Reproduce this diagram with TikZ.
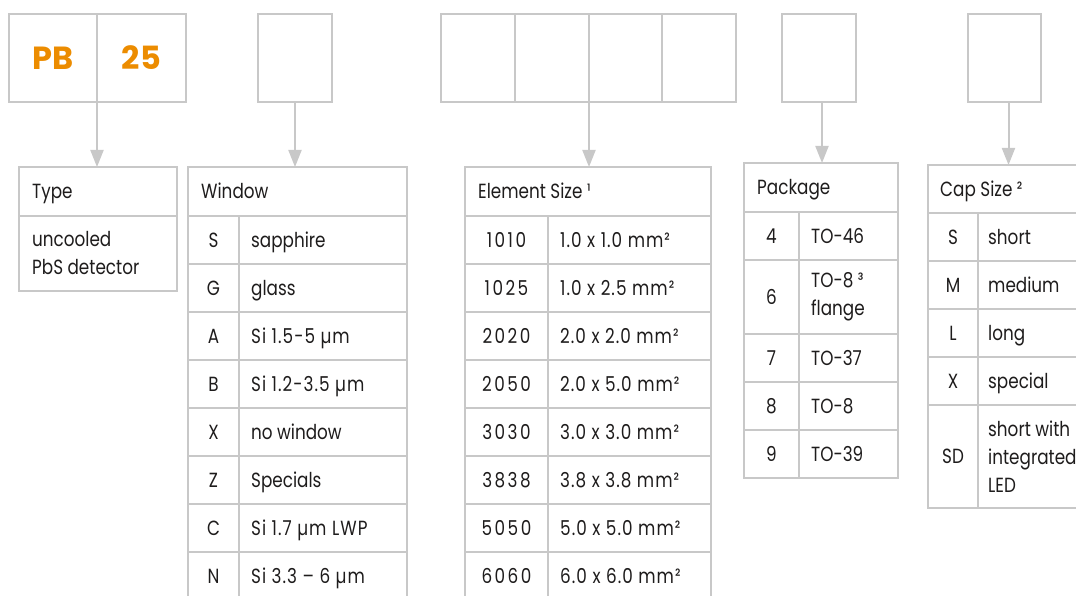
\documentclass[tikz,border=0pt]{standalone}
\usepackage{fontspec}
\usetikzlibrary{arrows.meta}
\setmainfont{Poppins}[FakeStretch=0.82]
\newfontfamily\numfont{Poppins}[FakeStretch=0.82, LetterSpace=5]
\newfontfamily\codefont{Poppins}[FakeStretch=0.82, LetterSpace=12]
\newfontfamily\pbfont{Poppins}
\definecolor{lgray}{RGB}{200,200,200}
\definecolor{orng}{RGB}{236,140,0}
\definecolor{ink}{RGB}{30,28,28}
\newcommand\dx{12pt}
\newcommand\cellbox[6][]{%
  \pgfmathsetmacro\cw{#5-#3}\pgfmathsetmacro\ch{#6-#4}%
  \node[cellb, minimum width=\cw pt, minimum height=\ch pt, #1] (#2) at (#3,#4) {};}
% #1 name, #2 x1, #3 xm, #4 x2, #5 y1, #6 y2, #7 code, #8 desc
\newcommand\trow[8]{%
  \cellbox{#1c}{#2}{#5}{#3}{#6}%
  \cellbox{#1d}{#3}{#5}{#4}{#6}%
  \node[one] (#1ct) at (#1c.center) {#7};%
  \node[one, anchor=west] (#1dt) at ([xshift=\dx]#1d.west) {#8};}
\newcommand\trowm[8]{%
  \cellbox{#1c}{#2}{#5}{#3}{#6}%
  \cellbox{#1d}{#3}{#5}{#4}{#6}%
  \node[one] (#1ct) at (#1c.center) {#7};%
  \node[txt, align=left, anchor=west] (#1dt) at ([xshift=\dx]#1d.west) {#8};}
\begin{document}
\begin{tikzpicture}[x=1pt,y=-1pt,
  cellb/.style={draw=lgray, line width=2pt, rectangle, inner sep=0pt, outer sep=0pt, anchor=north west},
  txt/.style={font=\fontsize{20.5}{28}\selectfont, text=ink, inner sep=0pt},
  one/.style={txt, text height=14.3pt, text depth=0pt},
  arr/.style={draw=lgray, line width=2pt, -{Triangle[length=17pt,width=13pt]}},
  big/.style={font=\pbfont\bfseries\fontsize{32}{32}\selectfont, text=orng}]
\useasboundingbox (0,0) rectangle (1076,596);
\clip (0,0) rectangle (1076,596);
% ---------- top code boxes ----------
\cellbox{pb}{9}{14}{97}{102}
\cellbox{n25}{97}{14}{186}{102}
\node[big] (pbt) at (pb.center) {PB};
\node[big] (n25t) at (n25.center) {25};
\cellbox{win}{258}{14}{332}{102}
\cellbox{ea}{441}{14}{515}{102}
\cellbox{eb}{515}{14}{589}{102}
\cellbox{ec}{589}{14}{662}{102}
\cellbox{ed}{662}{14}{736}{102}
\cellbox{pkg}{782}{14}{856}{102}
\cellbox{cap}{968}{14}{1041}{102}
% ---------- Type ----------
\cellbox{typeh}{19}{167}{177}{216}
\cellbox{typeb}{19}{216}{177}{291}
\node[one, anchor=west] (typet) at ([xshift=13pt]typeh.west) {Type};
\node[txt, align=left, anchor=west] (typebt) at ([xshift=13pt]typeb.west) {uncooled\\PbS detector};
% ---------- Window ----------
\cellbox{winh}{188}{167}{407}{216}
\node[one, anchor=west] (wint) at ([xshift=13pt]winh.west) {Window};
\trow{w1}{188}{239}{407}{216}{264}{S}{sapphire}
\trow{w2}{188}{239}{407}{264}{312}{G}{glass}
\trow{w3}{188}{239}{407}{312}{360}{A}{\numfont Si 1.5-5 µm}
\trow{w4}{188}{239}{407}{360}{408}{B}{\numfont Si 1.2-3.5 µm}
\trow{w5}{188}{239}{407}{408}{456}{X}{no window}
\trow{w6}{188}{239}{407}{456}{504}{Z}{Specials}
\trow{w7}{188}{239}{407}{504}{552}{C}{\numfont Si 1.7 µm LWP}
\trow{w8}{188}{239}{407}{552}{600}{N}{\numfont Si 3.3 – 6 µm}
% ---------- Element Size ----------
\cellbox{elh}{465}{167}{711}{216}
\node[one, anchor=west] (elt) at ([xshift=13pt]elh.west) {Element Size ¹};
\trow{e1}{465}{548}{711}{216}{264}{\codefont 1010}{\numfont 1.0 x 1.0 mm²}
\trow{e2}{465}{548}{711}{264}{312}{\codefont 1025}{\numfont 1.0 x 2.5 mm²}
\trow{e3}{465}{548}{711}{312}{360}{\codefont 2020}{\numfont 2.0 x 2.0 mm²}
\trow{e4}{465}{548}{711}{360}{408}{\codefont 2050}{\numfont 2.0 x 5.0 mm²}
\trow{e5}{465}{548}{711}{408}{456}{\codefont 3030}{\numfont 3.0 x 3.0 mm²}
\trow{e6}{465}{548}{711}{456}{504}{\codefont 3838}{\numfont 3.8 x 3.8 mm²}
\trow{e7}{465}{548}{711}{504}{552}{\codefont 5050}{\numfont 5.0 x 5.0 mm²}
\trow{e8}{465}{548}{711}{552}{600}{\codefont 6060}{\numfont 6.0 x 6.0 mm²}
% ---------- Package ----------
\cellbox{pkgh}{744}{163}{898}{212}
\node[one, anchor=west] (pkgt) at ([xshift=13pt]pkgh.west) {Package};
\trow{p1}{744}{799}{898}{212}{260}{4}{TO-46}
\trowm{p2}{744}{799}{898}{260}{334}{6}{TO-8 ³\\flange}
\trow{p3}{744}{799}{898}{334}{382}{7}{TO-37}
\trow{p4}{744}{799}{898}{382}{430}{8}{TO-8}
\trow{p5}{744}{799}{898}{430}{478}{9}{TO-39}
% ---------- Cap Size ----------
\renewcommand\dx{10pt}
\cellbox{caph}{928}{165}{1090}{213}
\node[one, anchor=west] (capt) at ([xshift=12pt]caph.west) {Cap Size ²};
\trow{c1}{928}{978}{1090}{213}{261}{S}{short}
\trow{c2}{928}{978}{1090}{261}{309}{M}{medium}
\trow{c3}{928}{978}{1090}{309}{357}{L}{long}
\trow{c4}{928}{978}{1090}{357}{405}{X}{special}
\trowm{c5}{928}{978}{1090}{405}{508}{SD}{short with\\integrated\\LED}
% ---------- connectors ----------
\draw[arr] (pb.south east) -- (pb.south east |- typeh.north);
\draw[arr] (win.south) -- (win.south |- winh.north);
\draw[arr] (eb.south east) -- (eb.south east |- elh.north);
\draw[arr] ([xshift=3pt]pkg.south) -- ([xshift=3pt]pkg.south |- pkgh.north);
\draw[arr] ([xshift=4pt]cap.south) -- ([xshift=4pt]cap.south |- caph.north);
\end{tikzpicture}
\end{document}
